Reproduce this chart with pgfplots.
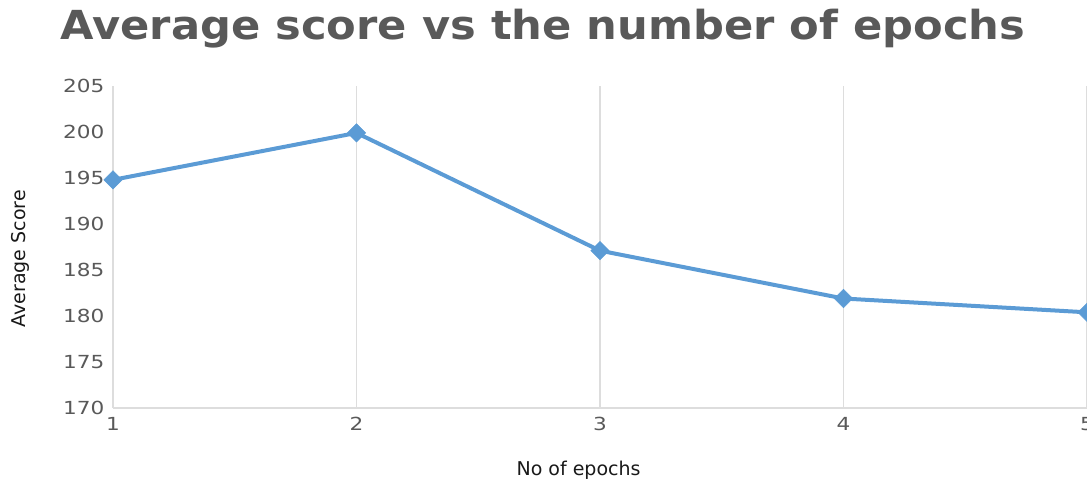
\documentclass[border=0pt]{standalone}
\usepackage{fontspec}
\setmainfont{DejaVu Sans}
\usepackage{pgfplots}
\pgfplotsset{compat=1.18}
\definecolor{linecol}{HTML}{5B9BD5}
\definecolor{titlecol}{HTML}{595959}
\definecolor{tickcol}{HTML}{595959}
\definecolor{gridcol}{HTML}{DDDDDD}
\begin{document}
\begin{tikzpicture}[x=1pt,y=1pt]
\useasboundingbox (0,0) rectangle (1087,487);
\clip (0,0) rectangle (1087,487);
\begin{axis}[
  at={(113pt,79pt)}, anchor=south west,
  scale only axis, width=974pt, height=322pt,
  xmin=1, xmax=5, ymin=170, ymax=205,
  xtick={1,2,3,4,5}, ytick={170,175,...,205},
  /pgf/number format/assume math mode=true,
  xticklabel={\scalebox{1.2}[1]{\pgfmathprintnumber{\tick}}},
  yticklabel={\scalebox{1.2}[1]{\pgfmathprintnumber{\tick}}},
  axis lines*=left,
  axis line style={draw=gridcol, line width=1.5pt},
  x axis line style={-}, y axis line style={-},
  xmajorgrids, grid style={draw=gridcol, line width=1.5pt},
  tick style={draw=none},
  ticklabel style={font=\fontsize{18}{20}\selectfont, text=tickcol},
  yticklabel style={xshift=-5pt},
  xticklabel style={yshift=-6pt},
  title={\scalebox{1.08}[1]{Average score vs the number of epochs}},
  title style={at={(axis description cs:0.4415,1.16)}, anchor=center,
    font=\fontsize{40}{44}\selectfont\bfseries, text=titlecol},
  xlabel={No of epochs},
  xlabel style={at={(axis description cs:0.478,0)}, yshift=-62pt, anchor=center,
    font=\fontsize{19}{21}\selectfont, text=black!90},
  ylabel={Average Score},
  ylabel style={at={(axis description cs:-0.0955,0.463)}, anchor=center,
    font=\fontsize{19}{21}\selectfont, text=black!90},
  clip=false,
]
\addplot[color=linecol, line width=4pt, mark=square*, mark size=6.5pt,
  mark options={rotate=45, fill=linecol, draw=linecol, line width=0.5pt}]
  coordinates {(1,194.8) (2,199.9) (3,187.1) (4,181.9) (5,180.4)};
\end{axis}
\end{tikzpicture}
\end{document}
